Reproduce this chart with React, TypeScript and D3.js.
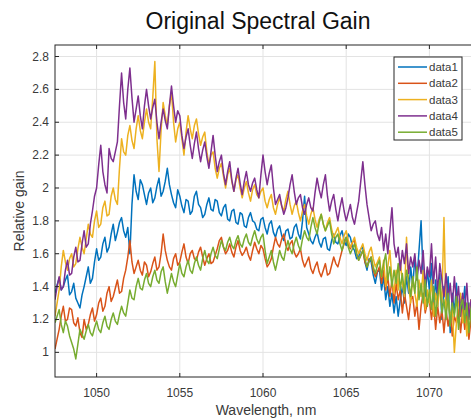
import React from "react";
import * as d3 from "d3";

const WL_START = 1047.5;
const WL_STEP = 0.125;

const data1 = [1.36,1.41,1.45,1.38,1.40,1.44,1.47,1.35,1.37,1.42,1.33,1.30,1.27,1.35,1.40,1.46,1.52,1.42,1.45,1.55,1.63,1.56,1.58,1.66,1.70,1.61,1.64,1.72,1.78,1.68,1.73,1.79,1.82,1.74,1.70,1.76,1.60,1.90,2.08,1.98,1.93,2.05,2.02,1.96,1.90,1.97,2.00,1.91,1.94,2.01,2.06,1.95,1.98,2.04,2.12,2.02,1.96,1.91,1.88,1.99,1.95,1.89,1.85,1.93,1.92,1.84,1.86,1.95,1.98,1.90,1.88,1.82,1.84,1.90,1.94,1.87,1.86,1.93,1.92,1.85,1.83,1.88,1.90,1.81,1.80,1.86,1.87,1.79,1.78,1.85,1.84,1.77,1.76,1.82,1.85,1.80,1.79,1.75,1.74,1.81,1.82,1.76,1.72,1.78,1.80,1.73,1.70,1.75,1.77,1.71,1.68,1.74,1.75,1.69,1.70,1.76,1.78,1.72,1.69,1.80,1.95,1.76,1.72,1.68,1.66,1.70,1.73,1.67,1.64,1.69,1.70,1.63,1.62,1.68,1.72,1.67,1.66,1.71,1.74,1.68,1.65,1.72,1.70,1.64,1.62,1.57,1.58,1.63,1.64,1.55,1.50,1.57,1.55,1.47,1.42,1.49,1.50,1.38,1.46,1.32,1.40,1.28,1.36,1.24,1.34,1.22,1.32,1.40,1.30,1.46,1.36,1.52,1.40,1.58,1.44,1.62,1.80,1.46,1.34,1.50,1.38,1.54,1.30,1.44,1.28,1.48,1.20,1.40,1.30,1.46,1.12,1.36,1.24,1.42,1.18,1.34,1.26,1.40,1.14,1.30,1.20,1.36,1.16,1.28,1.30];
const data2 = [1.02,1.08,1.14,1.22,1.28,1.19,1.20,1.27,1.26,1.18,1.16,1.21,1.12,1.09,1.20,1.14,1.17,1.23,1.27,1.19,1.23,1.30,1.33,1.25,1.28,1.36,1.40,1.31,1.34,1.39,1.44,1.36,1.37,1.45,1.50,1.58,1.68,1.55,1.48,1.52,1.56,1.50,1.47,1.55,1.53,1.46,1.49,1.54,1.58,1.50,1.52,1.60,1.72,1.62,1.56,1.52,1.50,1.57,1.60,1.53,1.55,1.61,1.66,1.58,1.54,1.60,1.62,1.57,1.56,1.61,1.64,1.58,1.53,1.57,1.60,1.54,1.55,1.59,1.63,1.68,1.70,1.64,1.60,1.62,1.66,1.61,1.58,1.64,1.68,1.62,1.59,1.61,1.64,1.59,1.56,1.62,1.67,1.63,1.60,1.65,1.63,1.57,1.52,1.54,1.57,1.64,1.70,1.66,1.64,1.69,1.72,1.65,1.62,1.66,1.68,1.61,1.58,1.60,1.63,1.56,1.52,1.55,1.58,1.51,1.48,1.52,1.55,1.49,1.46,1.50,1.54,1.47,1.48,1.53,1.58,1.54,1.52,1.57,1.62,1.66,1.70,1.65,1.63,1.67,1.68,1.60,1.56,1.59,1.62,1.55,1.52,1.56,1.58,1.50,1.46,1.49,1.52,1.42,1.50,1.38,1.46,1.34,1.44,1.30,1.42,1.32,1.38,1.24,1.36,1.28,1.20,1.32,1.34,1.22,1.30,1.14,1.28,1.36,1.24,1.30,1.32,1.20,1.30,1.14,1.28,1.18,1.26,1.12,1.26,1.16,1.24,1.10,1.22,1.18,1.26,1.12,1.26,1.14,1.22,1.08,1.20,1.16,1.22,1.12,1.20];
const data3 = [1.22,1.30,1.38,1.52,1.62,1.55,1.50,1.57,1.60,1.52,1.54,1.63,1.70,1.64,1.60,1.69,1.78,1.72,1.70,1.80,1.86,1.76,1.78,1.88,1.92,1.83,1.84,1.95,2.00,1.93,1.90,2.12,2.30,2.22,2.20,2.32,2.38,2.29,2.24,2.36,2.44,2.35,2.30,2.40,2.48,2.40,2.36,2.55,2.77,2.30,2.10,2.35,2.52,2.44,2.38,2.50,2.58,2.40,2.28,2.36,2.40,2.30,2.20,2.34,2.44,2.36,2.30,2.38,2.42,2.33,2.26,2.31,2.34,2.22,2.14,2.20,2.22,2.12,2.06,2.12,2.15,2.07,2.00,2.08,2.12,2.04,1.98,2.05,2.08,2.00,1.94,2.00,2.04,1.97,1.92,1.99,2.02,1.96,1.94,1.98,2.00,1.92,1.88,1.93,1.96,1.88,1.84,1.90,1.94,1.89,1.86,1.93,1.98,1.90,1.84,1.89,1.92,1.85,1.80,1.86,1.90,1.83,1.78,1.84,1.88,1.81,1.76,1.81,1.84,1.78,1.74,1.79,1.82,1.75,1.70,1.73,1.76,1.70,1.66,1.71,1.74,1.68,1.64,1.67,1.70,1.64,1.60,1.63,1.66,1.60,1.56,1.61,1.64,1.57,1.52,1.55,1.58,1.46,1.56,1.40,1.52,1.62,1.44,1.36,1.50,1.38,1.56,1.42,1.34,1.70,1.40,1.30,1.46,1.36,1.28,1.44,1.34,1.50,1.26,1.38,1.30,1.44,1.22,1.36,1.28,1.40,1.30,1.82,1.24,1.34,1.20,1.28,1.00,1.18,1.30,1.36,1.18,1.28,1.10,1.24,1.32,1.16,1.26,1.12,1.22];
const data4 = [1.32,1.40,1.46,1.38,1.40,1.50,1.56,1.47,1.48,1.58,1.64,1.55,1.56,1.66,1.74,1.64,1.66,1.78,1.86,1.95,2.00,2.14,2.26,2.10,2.02,1.97,2.24,2.18,2.16,2.22,2.28,2.50,2.70,2.52,2.42,2.60,2.73,2.55,2.40,2.48,2.56,2.44,2.36,2.50,2.60,2.50,2.42,2.49,2.54,2.40,2.30,2.40,2.48,2.41,2.36,2.50,2.62,2.50,2.40,2.47,2.44,2.32,2.24,2.31,2.36,2.26,2.18,2.27,2.34,2.24,2.16,2.23,2.28,2.19,2.12,2.22,2.32,2.20,2.10,2.16,2.20,2.09,2.02,2.10,2.16,2.05,1.98,2.06,2.12,2.03,1.96,2.04,2.10,2.02,1.98,2.03,2.06,1.99,1.94,2.08,2.20,2.10,2.02,2.09,2.14,2.00,1.90,1.93,1.96,1.89,1.84,1.88,1.94,2.02,2.08,1.98,1.90,1.94,1.96,1.88,1.84,1.90,1.94,1.88,1.86,1.97,2.06,1.99,1.94,2.02,2.08,1.95,1.86,1.92,1.96,1.87,1.80,1.88,1.94,1.86,1.80,1.85,1.90,1.82,1.78,1.85,1.92,2.04,2.16,2.02,1.90,1.82,1.74,1.78,1.80,1.72,1.68,1.76,1.62,1.72,1.60,1.74,1.88,1.66,1.58,1.64,1.50,1.62,1.54,1.66,1.48,1.58,1.52,1.60,1.44,1.56,1.48,1.62,1.40,1.52,1.46,1.66,1.42,1.58,1.36,1.54,1.44,1.34,1.48,1.32,1.42,1.28,1.46,1.30,1.40,1.22,1.36,1.26,1.42,1.20,1.32,1.18,1.30,1.24,1.30];
const data5 = [1.18,1.22,1.26,1.17,1.12,1.19,1.16,1.10,1.06,1.02,0.96,1.05,1.14,1.11,1.08,1.13,1.17,1.12,1.10,1.15,1.19,1.14,1.12,1.18,1.22,1.16,1.14,1.20,1.24,1.19,1.17,1.23,1.28,1.24,1.22,1.30,1.38,1.33,1.32,1.40,1.45,1.39,1.38,1.44,1.48,1.42,1.40,1.46,1.50,1.44,1.42,1.49,1.52,1.43,1.36,1.42,1.48,1.43,1.40,1.47,1.54,1.48,1.46,1.52,1.56,1.50,1.48,1.54,1.58,1.53,1.50,1.57,1.62,1.56,1.54,1.60,1.64,1.59,1.57,1.63,1.68,1.64,1.62,1.67,1.70,1.65,1.63,1.68,1.71,1.66,1.64,1.69,1.72,1.67,1.65,1.70,1.74,1.69,1.66,1.70,1.72,1.62,1.54,1.58,1.62,1.55,1.50,1.56,1.62,1.58,1.56,1.63,1.68,1.63,1.60,1.66,1.70,1.65,1.62,1.69,1.74,1.70,1.68,1.76,1.82,1.76,1.72,1.79,1.84,1.78,1.74,1.77,1.80,1.72,1.66,1.70,1.72,1.66,1.62,1.67,1.70,1.64,1.60,1.63,1.66,1.60,1.56,1.59,1.62,1.57,1.52,1.55,1.58,1.52,1.48,1.53,1.56,1.46,1.54,1.60,1.44,1.52,1.40,1.50,1.42,1.54,1.38,1.48,1.36,1.50,1.44,1.34,1.46,1.36,1.52,1.32,1.42,1.30,1.44,1.28,1.38,1.26,1.40,1.22,1.34,1.44,1.24,1.32,1.20,1.36,1.16,1.30,1.22,1.34,1.14,1.28,1.32,1.18,1.30,1.12,1.26,1.34,1.20,1.28,1.26];

const seriesNames = ["data1", "data2", "data3", "data4", "data5"];
const seriesValues = [data1, data2, data3, data4, data5];
const colors = ["#0072BD", "#D95319", "#EDB120", "#7E2F8E", "#77AC30"];
const xTicks = [1050, 1055, 1060, 1065, 1070];
const yTicks = [1, 1.2, 1.4, 1.6, 1.8, 2, 2.2, 2.4, 2.6, 2.8];

const W = 471;
const H = 420;
const left = 55;
const top = 45;
const bottom = 377;
const xDomain: [number, number] = [1047.5, 1073];
const right = left + (xDomain[1] - xDomain[0]) * 16.64;

export default function App() {
  const x = d3.scaleLinear().domain(xDomain).range([left, right]);
  const y = d3.scaleLinear().domain([0.85, 2.87]).range([bottom, top]);
  const line = d3
    .line<number>()
    .x((_, i) => x(WL_START + i * WL_STEP))
    .y((d) => y(d));
  const font = "'Liberation Sans', Arial, sans-serif";
  const axisColor = "#262626";
  const textColor = "#3a3a3a";

  return (
    <div style={{ position: "absolute", left: 0, top: 0 }}>
      <svg width={W} height={H} style={{ display: "block", background: "#fff" }}>
        <defs>
          <clipPath id="plotClip">
            <rect x={left} y={top} width={right - left} height={bottom - top} />
          </clipPath>
        </defs>
        <rect x={0} y={0} width={W} height={H} fill="#fff" />
        {xTicks.map((t) => (
          <line key={"gx" + t} x1={x(t)} x2={x(t)} y1={top} y2={bottom} stroke="#e3e3e3" strokeWidth={1} />
        ))}
        {yTicks.map((t) => (
          <line key={"gy" + t} x1={left} x2={right} y1={y(t)} y2={y(t)} stroke="#e3e3e3" strokeWidth={1} />
        ))}
        <g clipPath="url(#plotClip)">
          {seriesValues.map((vals, k) => (
            <path key={seriesNames[k]} d={line(vals) || ""} fill="none" stroke={colors[k]} strokeWidth={1.5} strokeLinejoin="round" />
          ))}
        </g>
        <rect x={left} y={top} width={right - left} height={bottom - top} fill="none" stroke={axisColor} strokeWidth={1} />
        {xTicks.map((t) => (
          <g key={"tx" + t}>
            <line x1={x(t)} x2={x(t)} y1={bottom} y2={bottom - 4} stroke={axisColor} />
            <line x1={x(t)} x2={x(t)} y1={top} y2={top + 4} stroke={axisColor} />
            <text x={x(t)} y={397} textAnchor="middle" fontFamily={font} fontSize={12} fill={textColor}>
              {t}
            </text>
          </g>
        ))}
        {yTicks.map((t) => (
          <g key={"ty" + t}>
            <line x1={left} x2={left + 4} y1={y(t)} y2={y(t)} stroke={axisColor} />
            <text x={49} y={y(t) + 4} textAnchor="end" fontFamily={font} fontSize={12} fill={textColor}>
              {String(t)}
            </text>
          </g>
        ))}
        <text x={258} y={29} textAnchor="middle" fontFamily={font} fontSize={23} fill="#111">
          Original Spectral Gain
        </text>
        <text x={266} y={415} textAnchor="middle" fontFamily={font} fontSize={14} fill={textColor}>
          Wavelength, nm
        </text>
        <text
          transform={`translate(24, ${(top + bottom) / 2}) rotate(-90)`}
          textAnchor="middle"
          fontFamily={font}
          fontSize={14}
          fill={textColor}
        >
          Relative gain
        </text>
        <rect x={394} y={57} width={68} height={83} fill="#fff" stroke={axisColor} strokeWidth={1} />
        {seriesNames.map((n, k) => {
          const ly = 67 + k * 16.3;
          return (
            <g key={"lg" + n}>
              <line x1={398} x2={427} y1={ly} y2={ly} stroke={colors[k]} strokeWidth={1.5} />
              <text x={429} y={ly + 4} fontFamily={font} fontSize={11.5} fill={textColor}>
                {n}
              </text>
            </g>
          );
        })}
      </svg>
    </div>
  );
}
